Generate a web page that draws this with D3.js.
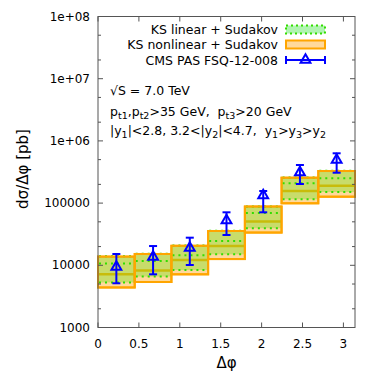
<!DOCTYPE html>
<html>
<head>
<meta charset="utf-8">
<script src="https://cdn.jsdelivr.net/npm/d3@7"></script>
<style>
  body { margin: 0; background: #fff; }
  text { font-family: "DejaVu Sans", sans-serif; fill: #000; white-space: pre; }
</style>
</head>
<body>
<div id="viz"></div>
<script>
// bin edges in delta phi (7 bins over 0..pi)
const binEdges = [0, 0.4488, 0.8976, 1.3464, 1.7952, 2.2440, 2.6928, 3.1416];
const binCenters = [0.2244, 0.6732, 1.1220, 1.5708, 2.0196, 2.4684, 2.9172];

// KS nonlinear + Sudakov (orange band)
const nonlinTop = [13800, 15200, 20600, 35600, 88100, 256000, 328000];
const nonlinMid = [7200, 8240, 12200, 20400, 50600, 156600, 190400];
const nonlinBot = [4400, 5390, 7160, 12600, 33600, 99300, 126700];

// KS linear + Sudakov (green band)
const linTop = [14000, 15300, 20800, 35800, 88500, 258000, 332000];
const linMid = [10700, 11700, 14500, 24600, 69300, 208000, 250600];
const linBot = [5300, 6600, 8400, 15000, 39400, 115100, 150700];

// CMS PAS FSQ-12-008
const cmsVal = [9400, 13600, 19000, 52500, 132500, 310500, 493000];
const cmsHi = [15200, 20400, 27800, 71100, 156400, 410000, 632000];
const cmsLo = [5140, 7160, 10120, 30700, 71100, 202800, 308000];

const xTicks = [0, 0.5, 1, 1.5, 2, 2.5, 3];
const yTicks = [1000, 10000, 100000, 1e6, 1e7, 1e8];
const yTickLabels = ['1000', '10000', '100000', '1e+06', '1e+07', '1e+08'];

const width = 374;
const height = 374;
const margin = { top: 16.5, right: 19, bottom: 46.5, left: 98 };
const iw = width - margin.left - margin.right;
const ih = height - margin.top - margin.bottom;

const GREEN_FILL = 'rgba(110,225,30,0.38)';
const GREEN_LEGEND = 'rgba(80,230,80,0.45)';
const GREEN_LINE = '#33dd00';
const ORANGE_FILL = '#ffd99c';
const ORANGE_LINE = '#ffa500';
const BLUE = '#0000ff';
const FRAME = '#555';

const x = d3.scaleLinear().domain([0, Math.PI]).range([0, iw]);
const y = d3.scaleLog().domain([1000, 1e8]).range([ih, 0]);

const svg = d3.select('#viz').append('svg')
  .attr('width', width)
  .attr('height', height);

const g = svg.append('g')
  .attr('transform', `translate(${margin.left},${margin.top})`);

const bins = d3.range(7);

// orange band
g.selectAll('rect.nonlin')
  .data(bins)
  .enter()
  .append('rect')
  .attr('class', 'nonlin')
  .attr('x', i => x(binEdges[i]))
  .attr('width', i => x(binEdges[i + 1]) - x(binEdges[i]))
  .attr('y', i => y(nonlinTop[i]))
  .attr('height', i => y(nonlinBot[i]) - y(nonlinTop[i]))
  .style('fill', ORANGE_FILL)
  .style('stroke', ORANGE_LINE)
  .style('stroke-width', 2);

g.selectAll('line.nonlinMid')
  .data(bins)
  .enter()
  .append('line')
  .attr('class', 'nonlinMid')
  .attr('x1', i => x(binEdges[i]))
  .attr('x2', i => x(binEdges[i + 1]))
  .attr('y1', i => y(nonlinMid[i]))
  .attr('y2', i => y(nonlinMid[i]))
  .style('stroke', ORANGE_LINE)
  .style('stroke-width', 2.5);

// green band
g.selectAll('rect.lin')
  .data(bins)
  .enter()
  .append('rect')
  .attr('class', 'lin')
  .attr('x', i => x(binEdges[i]))
  .attr('width', i => x(binEdges[i + 1]) - x(binEdges[i]))
  .attr('y', i => y(linTop[i]))
  .attr('height', i => y(linBot[i]) - y(linTop[i]))
  .style('fill', GREEN_FILL)
  .style('stroke', 'none');

const dashed = [
  ['linTopLine', linTop],
  ['linMidLine', linMid],
  ['linBotLine', linBot]
];
dashed.forEach(([cls, arr]) => {
  g.selectAll(`line.${cls}`)
    .data(bins)
    .enter()
    .append('line')
    .attr('class', cls)
    .attr('x1', i => x(binEdges[i]) + 1)
    .attr('x2', i => x(binEdges[i + 1]) - 1)
    .attr('y1', i => y(arr[i]))
    .attr('y2', i => y(arr[i]))
    .style('stroke', GREEN_LINE)
    .style('stroke-width', 2)
    .style('stroke-dasharray', '2,4');
});

// redraw orange borders over the green fill
g.selectAll('rect.nonlinEdge')
  .data(bins)
  .enter()
  .append('rect')
  .attr('class', 'nonlinEdge')
  .attr('x', i => x(binEdges[i]))
  .attr('width', i => x(binEdges[i + 1]) - x(binEdges[i]))
  .attr('y', i => y(nonlinTop[i]))
  .attr('height', i => y(nonlinBot[i]) - y(nonlinTop[i]))
  .style('fill', 'none')
  .style('stroke', ORANGE_LINE)
  .style('stroke-width', 2);

// CMS data
const cap = 4;
const cms = g.selectAll('g.cms')
  .data(bins)
  .enter()
  .append('g')
  .attr('class', 'cms')
  .style('stroke', BLUE)
  .style('stroke-width', 2)
  .style('fill', 'none');

cms.append('line')
  .attr('x1', i => x(binCenters[i]))
  .attr('x2', i => x(binCenters[i]))
  .attr('y1', i => y(cmsHi[i]))
  .attr('y2', i => y(cmsLo[i]));
cms.append('line')
  .attr('x1', i => x(binCenters[i]) - cap)
  .attr('x2', i => x(binCenters[i]) + cap)
  .attr('y1', i => y(cmsHi[i]))
  .attr('y2', i => y(cmsHi[i]));
cms.append('line')
  .attr('x1', i => x(binCenters[i]) - cap)
  .attr('x2', i => x(binCenters[i]) + cap)
  .attr('y1', i => y(cmsLo[i]))
  .attr('y2', i => y(cmsLo[i]));
cms.append('path')
  .attr('d', d3.symbol().type(d3.symbolTriangle).size(42))
  .attr('transform', i => `translate(${x(binCenters[i])},${y(cmsVal[i])})`);

// frame and ticks
g.append('rect')
  .attr('width', iw)
  .attr('height', ih)
  .style('fill', 'none')
  .style('stroke', FRAME)
  .style('stroke-width', 1);

const tickLen = 5;
const minorLen = 3;
xTicks.forEach(t => {
  const px = x(t);
  g.append('line').attr('x1', px).attr('x2', px).attr('y1', ih).attr('y2', ih - tickLen)
    .style('stroke', FRAME);
  g.append('line').attr('x1', px).attr('x2', px).attr('y1', 0).attr('y2', tickLen)
    .style('stroke', FRAME);
  g.append('text')
    .attr('x', px)
    .attr('y', ih + 20)
    .attr('text-anchor', 'middle')
    .style('font-size', '12px')
    .text(t);
});

yTicks.forEach((t, k) => {
  const py = y(t);
  g.append('line').attr('x1', 0).attr('x2', tickLen).attr('y1', py).attr('y2', py)
    .style('stroke', FRAME);
  g.append('line').attr('x1', iw).attr('x2', iw - tickLen).attr('y1', py).attr('y2', py)
    .style('stroke', FRAME);
  g.append('text')
    .attr('x', -8)
    .attr('y', py + 4)
    .attr('text-anchor', 'end')
    .style('font-size', '12px')
    .text(yTickLabels[k]);
  if (k < yTicks.length - 1) {
    [2, 5].forEach(m => {
      const my = y(t * m);
      g.append('line').attr('x1', 0).attr('x2', minorLen).attr('y1', my).attr('y2', my)
        .style('stroke', FRAME);
      g.append('line').attr('x1', iw).attr('x2', iw - minorLen).attr('y1', my).attr('y2', my)
        .style('stroke', FRAME);
    });
  }
});

// axis titles
svg.append('text')
  .attr('x', margin.left + iw / 2)
  .attr('y', 368)
  .attr('text-anchor', 'middle')
  .style('font-size', '15px')
  .text('Δφ');

svg.append('text')
  .attr('transform', 'translate(28,169) rotate(-90)')
  .attr('text-anchor', 'middle')
  .style('font-size', '15px')
  .text('dσ/Δφ [pb]');

// legend
const legendNames = ['KS linear + Sudakov', 'KS nonlinear + Sudakov', 'CMS PAS FSQ-12-008'];
const legendY = [29.5, 44.5, 60];
const lx0 = 286;
const lx1 = 325;

legendNames.forEach((name, k) => {
  svg.append('text')
    .attr('x', 278)
    .attr('y', legendY[k] + 4.5)
    .attr('text-anchor', 'end')
    .style('font-size', '12.5px')
    .text(name);
});

svg.append('rect')
  .attr('x', lx0).attr('y', legendY[0] - 4).attr('width', lx1 - lx0).attr('height', 8)
  .style('fill', GREEN_LEGEND)
  .style('stroke', GREEN_LINE)
  .style('stroke-width', 2)
  .style('stroke-dasharray', '2,3');

svg.append('rect')
  .attr('x', lx0).attr('y', legendY[1] - 4).attr('width', lx1 - lx0).attr('height', 8)
  .style('fill', ORANGE_FILL)
  .style('stroke', ORANGE_LINE)
  .style('stroke-width', 2);

const lg = svg.append('g')
  .style('stroke', BLUE)
  .style('stroke-width', 2)
  .style('fill', 'none');
lg.append('line').attr('x1', lx0).attr('x2', lx1).attr('y1', legendY[2]).attr('y2', legendY[2]);
lg.append('line').attr('x1', lx0).attr('x2', lx0).attr('y1', legendY[2] - 4).attr('y2', legendY[2] + 4);
lg.append('line').attr('x1', lx1).attr('x2', lx1).attr('y1', legendY[2] - 4).attr('y2', legendY[2] + 4);
lg.append('path')
  .attr('d', d3.symbol().type(d3.symbolTriangle).size(42))
  .attr('transform', `translate(${(lx0 + lx1) / 2},${legendY[2]})`);

// annotations
const ann = svg.append('g').style('font-size', '12.5px');
ann.append('text').attr('x', 110).attr('y', 95).text('√S = 7.0 TeV');

const l2 = ann.append('text').attr('x', 110).attr('y', 116);
[['p', 0], ['t1', 1], [',p', 0], ['t2', 1], ['>35 GeV,  p', 0], ['t3', 1], ['>20 GeV', 0]]
  .forEach(([s, sub]) => {
    l2.append('tspan')
      .attr('baseline-shift', sub ? '-25%' : null)
      .style('font-size', sub ? '9.5px' : null)
      .text(s);
  });

const l3 = ann.append('text').attr('x', 110).attr('y', 135);
[['|y', 0], ['1', 1], ['|<2.8, 3.2<|y', 0], ['2', 1], ['|<4.7,  y', 0], ['1', 1], ['>y', 0], ['3', 1], ['>y', 0], ['2', 1]]
  .forEach(([s, sub]) => {
    l3.append('tspan')
      .attr('baseline-shift', sub ? '-25%' : null)
      .style('font-size', sub ? '9.5px' : null)
      .text(s);
  });
</script>
</body>
</html>
